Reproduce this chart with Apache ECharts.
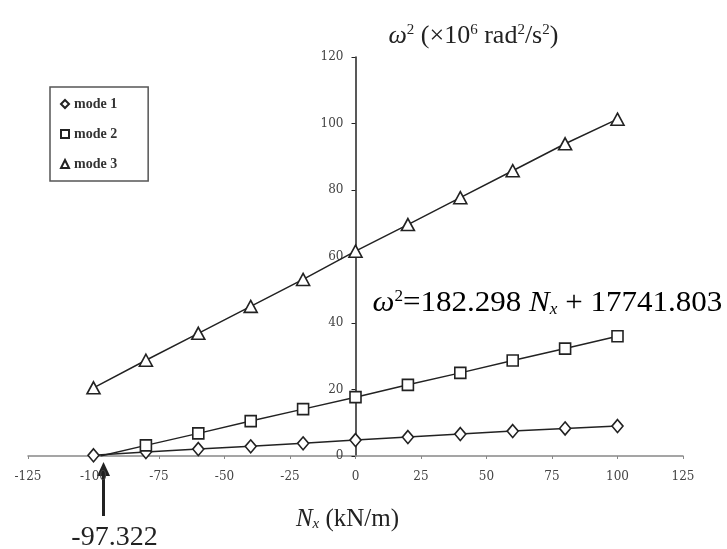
<!DOCTYPE html>
<html>
<head>
<meta charset="utf-8">
<script src="https://cdn.jsdelivr.net/npm/echarts@6/dist/echarts.min.js"></script>
<style>
  html, body { margin: 0; padding: 0; background: #fff; }
  #chart { width: 727px; height: 549px; }
</style>
</head>
<body>
<div id="chart"></div>
<script>
// values
var nx = [-100, -80, -60, -40, -20, 0, 20, 40, 60, 80, 100];
var mode1 = [0.2, 1.2, 2.1, 2.9, 3.8, 4.8, 5.7, 6.6, 7.5, 8.3, 9.0];
var mode2 = [null, 3.2, 6.8, 10.5, 14.1, 17.7, 21.4, 25.0, 28.7, 32.3, 36.0];
var mode3 = [20.5, 28.8, 36.9, 45.0, 53.1, 61.6, 69.6, 77.7, 85.8, 93.9, 101.3];
var rootNx = -97.322;
var xTicks = [-125, -100, -75, -50, -25, 0, 25, 50, 75, 100, 125];
var yTicks = [0, 20, 40, 60, 80, 100, 120];

var serif = '"Liberation Serif", "DejaVu Serif", serif';
var tickFont = '"DejaVu Serif", serif';
var ink = '#222';
var gridLeft = 28;

function pairs(ys) {
  var out = [];
  nx.forEach(function (x, i) {
    if (ys[i] != null) out.push([x, ys[i]]);
  });
  return out;
}

// mode 2 is drawn from its zero crossing
var mode2Data = [{ value: [rootNx, 0], symbol: 'none' }].concat(pairs(mode2));

function lineSeries(name, symbol, size, data) {
  return {
    name: name,
    type: 'line',
    data: data,
    symbol: symbol,
    symbolSize: size,
    showAllSymbol: true,
    lineStyle: { color: ink, width: 1.5 },
    itemStyle: { color: '#fff', borderColor: ink, borderWidth: 1.6 },
    emphasis: { disabled: true },
    animation: false
  };
}

var chart = echarts.init(document.getElementById('chart'));
chart.setOption({
  backgroundColor: '#fff',
  animation: false,
  grid: { left: gridLeft, right: 44, top: 57, bottom: 93, outerBoundsMode: 'none', containLabel: false },
  legend: {
    orient: 'vertical',
    left: 50,
    top: 87,
    padding: [10, 31, 10, 10],
    itemGap: 16,
    itemWidth: 8,
    itemHeight: 8,
    borderColor: '#555',
    borderWidth: 1.5,
    textStyle: { fontFamily: serif, fontSize: 14, fontWeight: 'bold', color: '#333' },
    data: [
      { name: 'mode 1', icon: 'diamond' },
      { name: 'mode 2', icon: 'rect' },
      { name: 'mode 3', icon: 'triangle' }
    ]
  },
  xAxis: {
    type: 'value',
    min: xTicks[0],
    max: xTicks[xTicks.length - 1],
    interval: 25,
    name: '{i|N}{sub|x} (kN/m)',
    nameLocation: 'middle',
    nameGap: 51,
    nameTextStyle: {
      fontFamily: serif, fontSize: 25, color: ink, padding: [0, 16, 0, 0],
      rich: {
        i: { fontFamily: serif, fontSize: 25, fontStyle: 'italic', color: ink },
        sub: { fontFamily: serif, fontSize: 15, fontStyle: 'italic', color: ink, verticalAlign: 'bottom', padding: [9, 0, 0, 0] }
      }
    },
    axisLine: { onZero: true, lineStyle: { color: '#888', width: 1.5 } },
    axisTick: { show: true, length: 3, lineStyle: { color: '#888' } },
    axisLabel: { fontFamily: tickFont, fontSize: 12, color: '#444', margin: 15 },
    splitLine: { show: false }
  },
  yAxis: {
    type: 'value',
    min: yTicks[0],
    max: yTicks[yTicks.length - 1],
    interval: 20,
    position: 'left',
    name: '{i|ω}{sup|2} (×10{sup|6} rad{sup|2}/s{sup|2})',
    nameLocation: 'end',
    nameGap: 21,
    nameTextStyle: {
      fontFamily: serif, fontSize: 26, color: ink, align: 'left', verticalAlign: 'middle', padding: [0, 0, 0, 33],
      rich: {
        i: { fontFamily: serif, fontSize: 26, fontStyle: 'italic', color: ink },
        sup: { fontFamily: serif, fontSize: 15, color: ink, verticalAlign: 'top', padding: [0, 0, 11, 0] }
      }
    },
    axisLine: { onZero: false, lineStyle: { color: ink, width: 1.5 } },
    axisTick: { show: true, length: 4, lineStyle: { color: ink } },
    axisLabel: { fontFamily: tickFont, fontSize: 12, color: '#444', margin: 12 },
    splitLine: { show: false }
  },
  series: [
    lineSeries('mode 1', 'diamond', [11, 13], pairs(mode1)),
    lineSeries('mode 2', 'rect', 11, mode2Data),
    lineSeries('mode 3', 'triangle', [13, 12], pairs(mode3))
  ]
});

// move the y axis (line, ticks and labels) onto N_x = 0
var zeroX = chart.convertToPixel({ xAxisIndex: 0 }, 0);
chart.setOption({ yAxis: { offset: -(zeroX - gridLeft) } });

// annotations placed from data coordinates
var root = chart.convertToPixel({ xAxisIndex: 0, yAxisIndex: 0 }, [rootNx, 0]);
var eqAt = chart.convertToPixel({ xAxisIndex: 0, yAxisIndex: 0 }, [6.5, 46]);
var ax = root[0] + 3, ay = root[1];
chart.setOption({
  graphic: [
    {
      type: 'polygon',
      shape: { points: [[ax, ay + 6], [ax - 6.5, ay + 20], [ax + 6.5, ay + 20]] },
      style: { fill: ink }
    },
    {
      type: 'line',
      shape: { x1: ax, y1: ay + 18, x2: ax, y2: ay + 60 },
      style: { stroke: ink, lineWidth: 3 }
    },
    {
      type: 'text',
      x: ax + 11,
      y: ay + 82,
      style: {
        text: '-97.322',
        font: '28px ' + serif,
        fill: ink,
        textAlign: 'center',
        textVerticalAlign: 'middle'
      }
    },
    {
      type: 'text',
      x: eqAt[0],
      y: eqAt[1],
      scaleX: 1.07,
      style: {
        text: '{i|ω}{sup|2}{n|=182.298 }{i|N}{sub|x}{n| + 17741.803}',
        textVerticalAlign: 'middle',
        rich: {
          n: { fontFamily: serif, fontSize: 29, color: ink },
          i: { fontFamily: serif, fontSize: 29, fontStyle: 'italic', color: ink },
          sup: { fontFamily: serif, fontSize: 16, color: ink, verticalAlign: 'top', padding: [0, 0, 12, 0] },
          sub: { fontFamily: serif, fontSize: 16, fontStyle: 'italic', color: ink, verticalAlign: 'bottom', padding: [10, 0, 0, 0] }
        }
      }
    }
  ]
});
</script>
</body>
</html>
